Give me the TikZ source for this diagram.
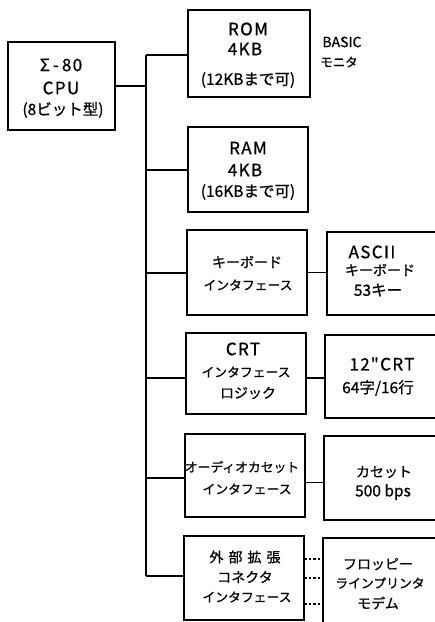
\documentclass[tikz,border=0pt]{standalone}
\usepackage{fontspec}
\setmainfont{Noto Sans CJK JP}[FakeBold=0.8]
\newfontfamily\lafont{Noto Sans CJK JP}[LetterSpace=8,FakeBold=0.8]
\begin{document}
\begin{tikzpicture}[x=1pt,y=-1pt,
  box/.style={draw, line width=1.5pt, inner sep=0pt, outer sep=0pt},
  conn/.style={line width=1.4pt},
  dconn/.style={line width=1.3pt, dash pattern=on 2.5pt off 2pt},
  jp/.style={inner sep=0pt, font=\fontsize{12.8}{14}\selectfont},
  jl/.style={inner sep=0pt, font=\fontsize{14}{15}\selectfont},
  la/.style={inner sep=0pt, font=\lafont\fontsize{17}{19}\selectfont},
  mx/.style={inner sep=0pt, font=\fontsize{15.5}{17}\selectfont}]
\useasboundingbox (0,0) rectangle (435,622);
\clip (0,0) rectangle (435,622);

% boxes
\node[box, minimum width=107pt, minimum height=88pt] (cpu) at (61.5,86) {};
\node[box, minimum width=122pt, minimum height=87pt] (rom) at (249,53.5) {};
\node[box, minimum width=120pt, minimum height=85pt] (ram) at (248,169.5) {};
\node[box, minimum width=120pt, minimum height=85pt] (kbi) at (247,272.5) {};
\node[box, minimum width=120pt, minimum height=81pt] (crti) at (246,373.5) {};
\node[box, minimum width=120pt, minimum height=83pt] (audi) at (245,475.5) {};
\node[box, minimum width=120pt, minimum height=84pt] (exti) at (244,578) {};
% right-hand boxes (run off the right edge)
\node[box, minimum width=123pt, minimum height=83pt] (kbr) at (388.5,273.5) {};
\node[box, minimum width=125pt, minimum height=83pt] (crtr) at (387.5,376.5) {};
\node[box, minimum width=126pt, minimum height=84pt] (audr) at (387,478) {};
\node[box, minimum width=127pt, minimum height=102pt] (extr) at (386.5,589) {};

% bus
\coordinate (b1) at (146,55);
\coordinate (b2) at (146,170);
\coordinate (b3) at (146,273);
\coordinate (b4) at (146,378);
\coordinate (b5) at (146,478);
\coordinate (b6) at (146,576);
\draw[conn] (b1) -- (b6);
\draw[conn] (cpu.east) -- (cpu.east -| b1);
\draw[conn] (b1) -- (b1 -| rom.west);
\draw[conn] (b2) -- (b2 -| ram.west);
\draw[conn] (b3) -- (b3 -| kbi.west);
\draw[conn] (b4) -- (b4 -| crti.west);
\draw[conn] (b5) -- (b5 -| audi.west);
\draw[conn] (b6) -- (b6 -| exti.west);

% interface to device
\draw[conn] (kbi.east) -- (kbi.east -| kbr.west);
\draw[conn] ([yshift=-4.5pt]crti.east) -- ([yshift=-4.5pt]crti.east -| crtr.west);
\draw[conn] ([yshift=-7pt]audi.east) -- ([yshift=-7pt]audi.east -| audr.west);
\coordinate (d1) at (0,559);
\coordinate (d2) at (0,578);
\coordinate (d3) at (0,604);
\draw[dconn] (d1 -| exti.east) -- (d1 -| extr.west);
\draw[dconn] (d2 -| exti.east) -- (d2 -| extr.west);
\draw[dconn] (d3 -| exti.east) -- (d3 -| extr.west);

% texts
\node[la] (t1) at (61,65) {Σ\kern3pt-\kern3pt80};
\node[la] (t2) at (61,88) {CPU};
\node[mx] (t3) at (63,110) {(8ビット型)};

\node[la] (t4) at (248,29) {ROM};
\node[la] (t5) at (245,49) {4KB};
\node[mx] (t6) at (248,80) {(12KBまで可)};
\node[inner sep=0pt, font=\fontsize{14}{15}\selectfont] (t7) at (342,42) {BASIC};
\node[inner sep=0pt, font=\fontsize{12.5}{13}\selectfont] (t8) at (339,62) {モニタ};

\node[la] (t9) at (248,148) {RAM};
\node[la] (t10) at (245,170) {4KB};
\node[mx] (t11) at (248,192) {(16KBまで可)};

\node[jl] (t12) at (247,262) {キーボード};
\node[jp] (t13) at (248,285) {インタフェース};
\node[la] (t14) at (372,252) {ASCII};
\node[jl] (t15) at (380,270) {キーボード};
\node[mx] (t16) at (378,290) {53キー};

\node[la] (t17) at (243,349) {CRT};
\node[jp] (t18) at (246,372) {インタフェース};
\node[jl] (t19) at (248,393) {ロジック};
\node[la] (t20) at (382,364) {12\kern1pt"CRT};
\node[mx] (t21) at (378,388) {64字/16行};

\node[jp] (t22) at (242,467) {オーディオカセット};
\node[jp] (t23) at (247,489) {インタフェース};
\node[jl] (t24) at (384,472) {カセット};
\node[mx] (t25) at (383,492) {500 bps};

\node[jl] (t26) at (245,557) {外\kern5pt部\kern5pt拡\kern5pt張};
\node[jl] (t27) at (245,577) {コネクタ};
\node[jp] (t28) at (247,597) {インタフェース};
\node[jl] (t29) at (378,564) {フロッピー};
\node[jp] (t30) at (380,583) {ラインプリンタ};
\node[jl] (t31) at (378,603) {モデム};
\end{tikzpicture}
\end{document}
